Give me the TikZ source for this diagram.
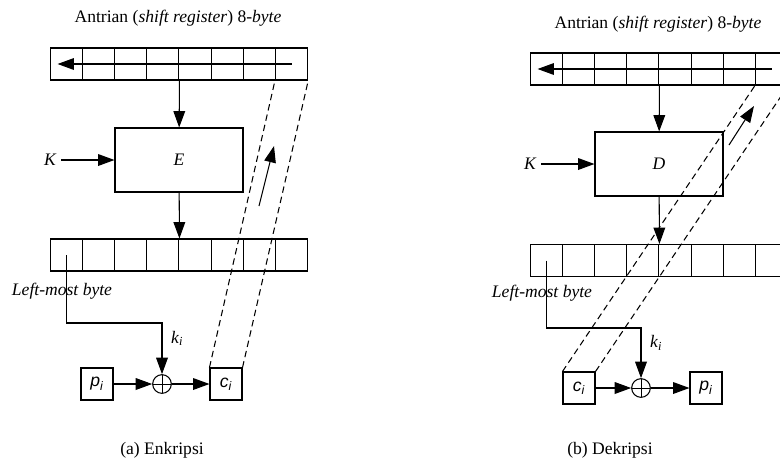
\documentclass[tikz,border=0pt]{standalone}
\usepackage{fontspec}
\setmainfont{Liberation Serif}
\newfontfamily\arialfont{Liberation Sans}
\usetikzlibrary{positioning, arrows.meta}

%% byte variable with italic index, e.g. p_i
\newcommand\bytevar[2]{\textit{#1}\textsubscript{\textit{#2}}}

\begin{document}
\begin{tikzpicture}[x=0.03cm, y=-0.03cm, line width=0.9pt,
                   >={Triangle[length=14pt,width=10pt]},
                   every node/.style={font=\fontsize{15}{18}\selectfont},
                   cell/.style={draw, minimum width=0.966cm, minimum height=0.96cm, inner sep=0pt},
                   cipher/.style={draw, minimum width=3.84cm, minimum height=1.92cm},
                   bytebox/.style={draw, minimum size=0.96cm, inner sep=0pt,
                                   font=\arialfont\fontsize{15}{18}\selectfont},
                   xor/.style={draw, circle, minimum size=0.56cm, inner sep=0pt,
                               path picture={\draw[line width=0.7pt]
                                 (path picture bounding box.north) -- (path picture bounding box.south)
                                 (path picture bounding box.west) -- (path picture bounding box.east);}},
                   feedback/.style={dash pattern=on 5.5pt off 3.5pt}]
\useasboundingbox (0,0) rectangle (780,462);
\clip (0,0) rectangle (780,462);

%% (a) encryption
\node (titleA) at (178,18) {Antrian (\textit{shift register}) 8-\textit{byte}};
\foreach \i in {1,...,8} {
  \node[cell] (ta\i) at ({34+32.2*\i},64) {};
  \node[cell] (ba\i) at ({34+32.2*\i},255) {};
}
\node[cipher] (encA) at (179,160) {\textit{E}};
\node (keyA) [left=1.6cm of encA] {\textit{K}};
\node[xor] (xorA) at (162,384) {};
\node[bytebox] (pA) at (97,384) {\bytevar{p}{i}};
\node[bytebox] (cA) at (226,384) {\bytevar{c}{i}};
\node (lmA) at (62,291) {\textit{Left-most byte}};
\node (capA) at (162,450) {(a) Enkripsi};
\coordinate (turnA) at (162,323);
\coordinate (upA1) at (259,206);
\coordinate (upA2) at (274,146);

\draw[->] (ta8.center) -- ([xshift=0.24cm]ta1.west);
\draw[->] (ta4.south east) -- (encA);
\draw[->] (keyA) -- (encA);
\draw[->] (encA) -- (ba4.north east);
\draw[->] (ba1.center) |- (turnA) -- node[right=4pt, pos=0.3] {\bytevar{k}{i}} (xorA);
\draw[->] (pA) -- (xorA);
\draw[->] (xorA) -- (cA);
\draw[feedback] (cA.north west) -- (ta8.south west)
                (cA.north east) -- (ta8.south east);
\draw[->] (upA1) -- (upA2);

%% (b) decryption
\node (titleB) at (658,24) {Antrian (\textit{shift register}) 8-\textit{byte}};
\foreach \i in {1,...,8} {
  \node[cell] (tb\i) at ({514+32.2*\i},69) {};
  \node[cell] (bb\i) at ({514+32.2*\i},260.5) {};
}
\node[cipher] (decB) at (659,164) {\textit{D}};
\node (keyB) [left=1.6cm of decB] {\textit{K}};
\node[xor] (xorB) at (641,388) {};
\node[bytebox] (cB) at (579,388) {\bytevar{c}{i}};
\node[bytebox] (pB) at (706,388) {\bytevar{p}{i}};
\node (lmB) at (542,293) {\textit{Left-most byte}};
\node (capB) at (610,450) {(b) Dekripsi};
\coordinate (turnB) at (641,328);
\coordinate (upB1) at (729,145);
\coordinate (upB2) at (754,106);

\draw[->] (tb8.center) -- ([xshift=0.24cm]tb1.west);
\draw[->] (tb4.south east) -- (decB);
\draw[->] (keyB) -- (decB);
\draw[->] (decB) -- (bb4.north east);
\draw[->] (bb1.center) |- (turnB) -- node[right=4pt, pos=0.3] {\bytevar{k}{i}} (xorB);
\draw[->] (cB) -- (xorB);
\draw[->] (xorB) -- (pB);
\draw[feedback] (cB.north west) -- (tb8.south west)
                (cB.north east) -- (tb8.south east);
\draw[->] (upB1) -- (upB2);
\end{tikzpicture}
\end{document}
